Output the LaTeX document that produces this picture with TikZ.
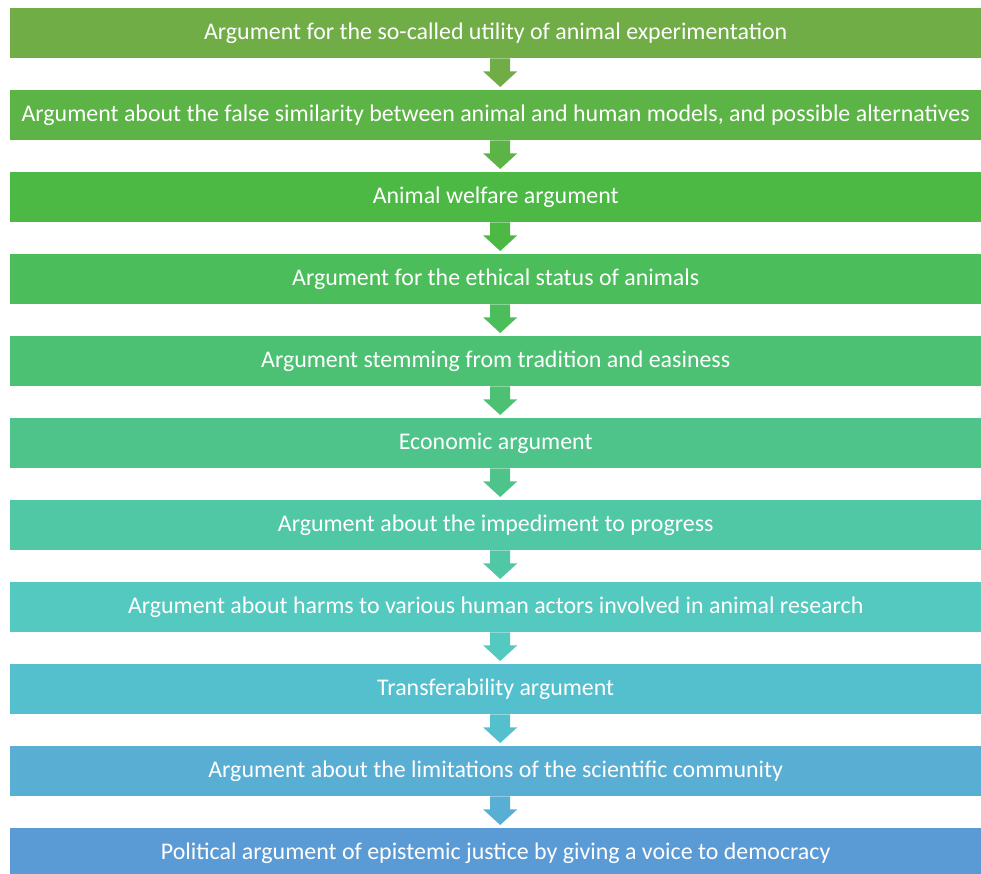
\documentclass[tikz,border=0pt]{standalone}
\usepackage{fontspec}
\setmainfont{Carlito}
\definecolor{c1}{HTML}{70AD47}
\definecolor{c2}{HTML}{5DB446}
\definecolor{c3}{HTML}{4BB944}
\definecolor{c4}{HTML}{4BBD5A}
\definecolor{c5}{HTML}{4DC173}
\definecolor{c6}{HTML}{4EC48A}
\definecolor{c7}{HTML}{50C8A5}
\definecolor{c8}{HTML}{53C9C0}
\definecolor{c9}{HTML}{54C0CE}
\definecolor{c10}{HTML}{58AED3}
\definecolor{c11}{HTML}{5B9BD5}
\tikzset{
  argbox/.style={fill=#1, draw=none, minimum width=971bp, minimum height=50bp,
    inner sep=0pt, text=white, font=\fontsize{24}{28}\selectfont, anchor=north west},
}
\begin{document}
\begin{tikzpicture}[x=1bp,y=-1bp]
\useasboundingbox (0,0) rectangle (981,874);
\foreach \i/\t in {
 1/{Argument for the so-called utility of animal experimentation},
 2/{Argument about the false similarity between animal and human models, and possible alternatives},
 3/{Animal welfare argument},
 4/{Argument for the ethical status of animals},
 5/{Argument stemming from tradition and easiness},
 6/{Economic argument},
 7/{Argument about the impediment to progress},
 8/{Argument about harms to various human actors involved in animal research},
 9/{Transferability argument},
 10/{Argument about the limitations of the scientific community},
 11/{Political argument of epistemic justice by giving a voice to democracy}}
{
  \node[argbox=c\i] (b\i) at (10,{8+82*(\i-1)}) {\raisebox{-2bp}{\t}};
}
\foreach \i in {1,...,10} {
  \pgfmathtruncatemacro{\j}{\i+1}
  \fill[c\i] ([xshift=-5.5bp]b\i.south) -- ([xshift=14.5bp]b\i.south)
    -- ([xshift=14.5bp,yshift=-13bp]b\i.south) -- ([xshift=21.5bp,yshift=-13bp]b\i.south)
    -- ([xshift=4.5bp,yshift=3bp]b\j.north)
    -- ([xshift=-12.5bp,yshift=-13bp]b\i.south) -- ([xshift=-5.5bp,yshift=-13bp]b\i.south) -- cycle;
}
\end{tikzpicture}
\end{document}
